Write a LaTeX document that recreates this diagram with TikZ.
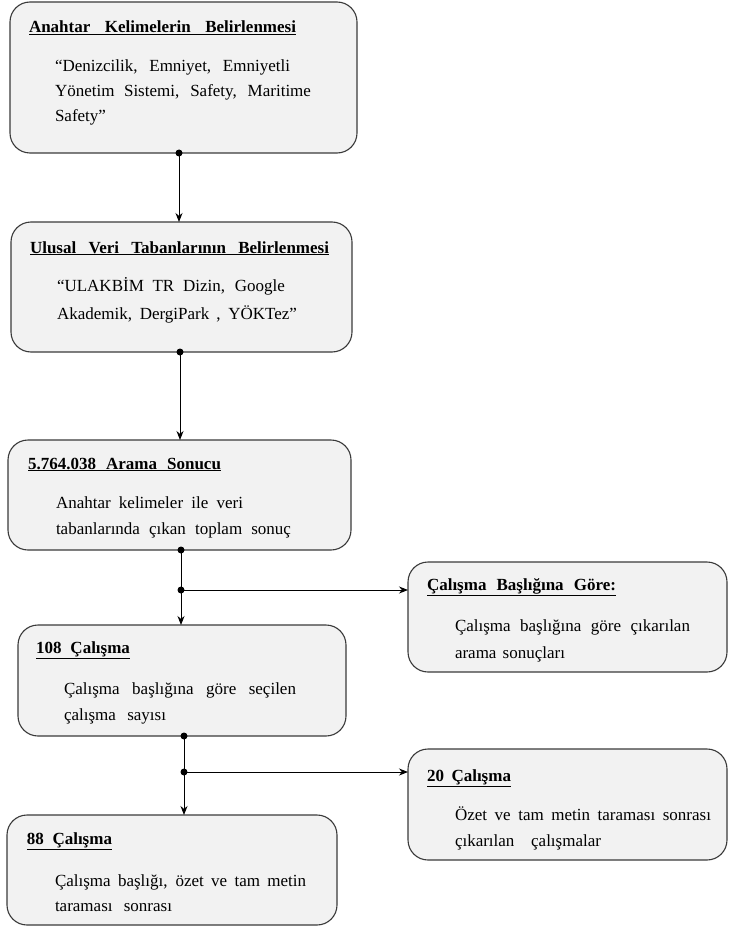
\documentclass[tikz,border=0pt]{standalone}
\usepackage{fontspec}
\setmainfont{Liberation Serif}
\usetikzlibrary{arrows.meta}
\definecolor{boxfill}{HTML}{F2F2F2}
\definecolor{boxline}{HTML}{3A3A3A}
\newcommand{\jl}[2]{\makebox[#1pt][s]{#2}}
\newcommand{\ttl}[2]{\underline{\makebox[#1pt][s]{\bfseries #2}}}
\begin{document}
\begin{tikzpicture}[x=1pt,y=1pt,
  flowbox/.style={draw=boxline, line width=1.1pt, fill=boxfill, rounded corners=20pt, inner sep=0pt, outer sep=0pt},
  txt/.style={anchor=base west, inner sep=0pt, outer sep=0pt, font=\fontsize{17pt}{21pt}\selectfont},
  dotnode/.style={circle, fill=black, inner sep=0pt, minimum size=7pt},
  conn/.style={line width=1pt, black},
  arr/.style={conn, -{Stealth[length=9pt,width=7pt]}}]
\useasboundingbox (0,0) rectangle (729,-928);

% boxes
\node[flowbox, minimum width=347pt, minimum height=151pt] (b1) at (183.5,-77.5) {};
\node[flowbox, minimum width=341pt, minimum height=130pt] (b2) at (181.5,-287) {};
\node[flowbox, minimum width=343pt, minimum height=110pt] (b3) at (179.5,-495) {};
\node[flowbox, minimum width=319pt, minimum height=110pt] (b4) at (567.5,-617) {};
\node[flowbox, minimum width=328pt, minimum height=111pt] (b5) at (182,-680.5) {};
\node[flowbox, minimum width=319pt, minimum height=111pt] (b6) at (567.5,-804.5) {};
\node[flowbox, minimum width=330pt, minimum height=110pt] (b7) at (172,-870) {};

% box 1
\node[txt] (t1) at (29,-33) {\ttl{267}{Anahtar Kelimelerin Belirlenmesi}};
\node[txt] (t1a) at (55,-72) {\jl{235}{“Denizcilik, Emniyet, Emniyetli}};
\node[txt] (t1b) at (55,-97) {\jl{256}{Yönetim Sistemi, Safety, Maritime}};
\node[txt] (t1c) at (55,-122) {Safety”};
% box 2
\node[txt] (t2) at (30,-253) {\ttl{299}{Ulusal Veri Tabanlarının Belirlenmesi}};
\node[txt] (t2a) at (57,-291) {\jl{228}{“ULAKBİM TR Dizin, Google}};
\node[txt] (t2b) at (57,-319) {\jl{240}{Akademik, DergiPark , YÖKTez”}};
% box 3
\node[txt] (t3) at (28,-469) {\ttl{193}{5.764.038 Arama Sonucu}};
\node[txt] (t3a) at (56,-508) {\jl{187}{Anahtar kelimeler ile veri}};
\node[txt] (t3b) at (56,-534) {\jl{235}{tabanlarında çıkan toplam sonuç}};
% box 4
\node[txt] (t4) at (427,-590) {\ttl{189}{Çalışma Başlığına Göre:}};
\node[txt] (t4a) at (455,-631) {\jl{235}{Çalışma başlığına göre çıkarılan}};
\node[txt] (t4b) at (455,-658) {\jl{110}{arama sonuçları}};
% box 5
\node[txt] (t5) at (36,-653) {\ttl{94}{108 Çalışma}};
\node[txt] (t5a) at (64,-694) {\jl{232}{Çalışma başlığına göre seçilen}};
\node[txt] (t5b) at (64,-720) {\jl{102}{çalışma sayısı}};
% box 6
\node[txt] (t6) at (427,-781) {\ttl{84}{20 Çalışma}};
\node[txt] (t6a) at (455,-820) {\jl{256}{Özet ve tam metin taraması sonrası}};
\node[txt] (t6b) at (455,-846) {\jl{146}{çıkarılan çalışmalar}};
% box 7
\node[txt] (t7) at (27,-844) {\ttl{85}{88 Çalışma}};
\node[txt] (t7a) at (55,-886) {\jl{251}{Çalışma başlığı, özet ve tam metin}};
\node[txt] (t7b) at (55,-911) {\jl{117}{taraması sonrası}};

% connectors
\node[dotnode] (d1) at (179,-153) {};
\node[dotnode] (d2) at (180,-352) {};
\node[dotnode] (d3) at (181,-550) {};
\node[dotnode] (j3) at (181,-590) {};
\node[dotnode] (d5) at (184,-736) {};
\node[dotnode] (j5) at (184,-772) {};

\draw[arr] (d1.center) -- (d1 |- b2.north);
\draw[arr] (d2.center) -- (d2 |- b3.north);
\draw[conn] (d3.center) -- (j3.center);
\draw[arr] (j3.center) -- (j3 |- b5.north);
\draw[arr] (j3.center) -- (j3 -| b4.west);
\draw[conn] (d5.center) -- (j5.center);
\draw[arr] (j5.center) -- (j5 |- b7.north);
\draw[arr] (j5.center) -- (j5 -| b6.west);
\end{tikzpicture}
\end{document}
